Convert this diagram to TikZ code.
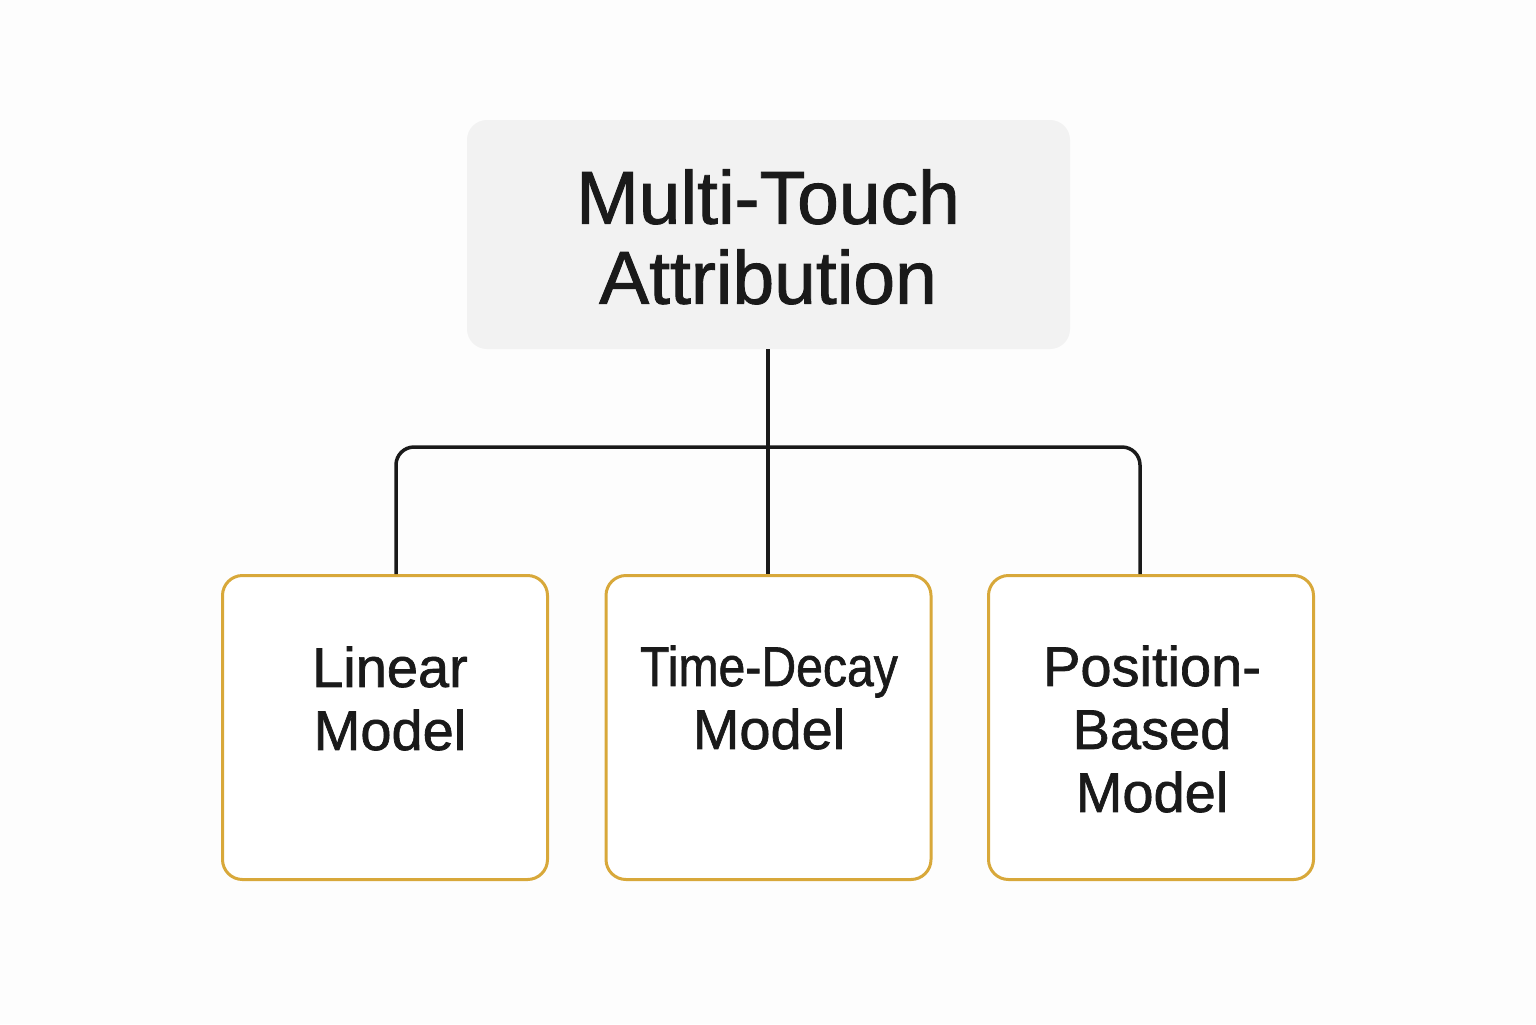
\documentclass[tikz,border=0pt]{standalone}
\usepackage{fontspec}
\setmainfont{Liberation Sans}
\newfontfamily\medfont[FakeBold=1.2]{Liberation Sans}
\definecolor{topfill}{HTML}{F2F2F2}
\definecolor{gold}{HTML}{D8A83A}
\definecolor{ink}{HTML}{1A1A1A}
\definecolor{bg}{HTML}{FDFDFD}
\begin{document}
\begin{tikzpicture}[x=0.5pt,y=-0.5pt,
  topbox/.style={rectangle, rounded corners=10pt, fill=topfill, draw=none,
    minimum width=301.5pt, minimum height=114.5pt, inner sep=0pt},
  childbox/.style={rectangle, rounded corners=10pt, draw=gold, line width=1.5pt, fill=white,
    minimum width=162.5pt, minimum height=152pt, inner sep=0pt},
  toptext/.style={anchor=north, align=center, inner sep=0pt, text=ink,
    font=\medfont\fontsize{37.5}{40}\selectfont},
  childtext/.style={anchor=north, align=center, inner sep=0pt, text=ink,
    font=\medfont\fontsize{28}{31.5}\selectfont},
  conn/.style={draw=ink, line width=1.75pt, rounded corners=9pt}]
\fill[bg] (0,0) rectangle (1536,1024);
\useasboundingbox (0,0) rectangle (1536,1024);
\node[topbox] (top) at (768.5,234.5) {};
\node[toptext] (toplabel) at (768,169) {Multi-Touch\\Attribution};
\node[childbox] (lm) at (385,727.5) {};
\node[childbox] (tm) at (768.5,727.5) {};
\node[childbox] (pm) at (1151,727.5) {};
\coordinate (j) at (768,447);
\coordinate (la) at (396,574);
\coordinate (ra) at (1140,574);
\coordinate (ma) at (768,574);
\draw[conn] (la) |- (j) -| (ra);
\draw[conn] (top.south -| j) -- (ma);
\node[childtext] (lml) at (390,646) {Linear\\Model};
\node[childtext] (tml) at (769,645) {\scalebox{0.86}[1]{Time-Decay}\\Model};
\node[childtext] (pml) at (1152,645) {Position-\\Based\\Model};
\end{tikzpicture}
\end{document}
